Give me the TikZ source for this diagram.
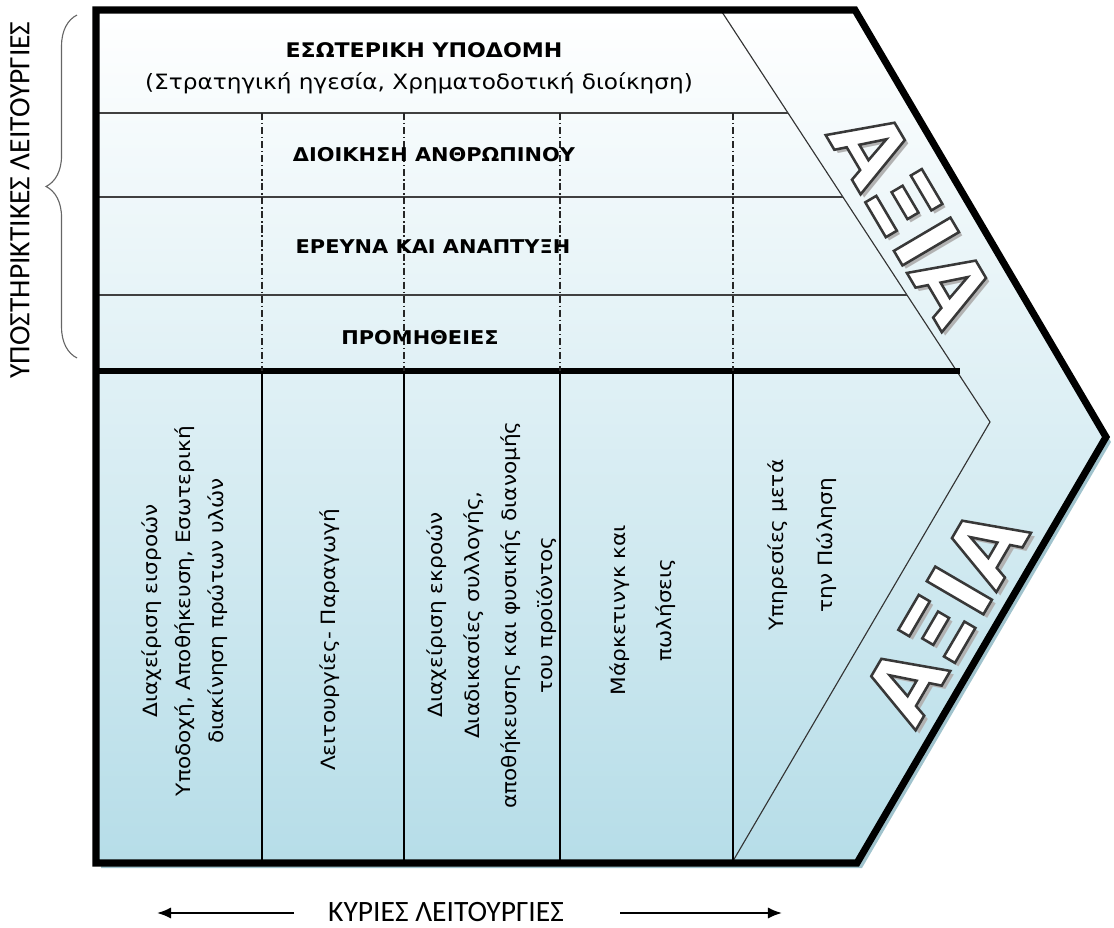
\documentclass[tikz,border=0pt]{standalone}
\usepackage{fontspec}
\setmainfont{DejaVu Sans}
\newfontfamily\bodyfont{DejaVu Sans}[FakeStretch=1.1]
\newfontfamily\sidefont{Carlito}
\newfontfamily\valuefont{DejaVu Sans}
\usetikzlibrary{arrows.meta,decorations.pathreplacing}
\definecolor{chainblue}{RGB}{182,221,232}
\definecolor{chainshadow}{RGB}{160,195,205}
\newcommand\colfont[1]{\bodyfont\fontsize{14}{#1}\selectfont}
% white letters with a thin grey stroke round them
\newcommand\outlined[1]{\special{pdf:code q 2 Tr 1.8 w 0.22 0.22 0.22 RG}#1\special{pdf:code Q}}

\begin{document}
\begin{tikzpicture}[x=0.025cm,y=-0.025cm,
  head/.style={font=\bodyfont\bfseries\fontsize{13.5}{16}\selectfont},
  col/.style={rotate=90,align=center,inner sep=0pt},
  side/.style={font=\sidefont\fontsize{21}{24}\selectfont},
  rowrule/.style={black!75,line width=1.3pt},
  dashrule/.style={black!85,line width=0.8pt,dash pattern=on 5pt off 2pt on 1pt off 2pt},
  colrule/.style={black,line width=1pt},
  arr/.style={-{Latex[length=10pt,width=8pt]},line width=1.4pt},
  value/.style={font=\valuefont\bfseries\fontsize{64}{64}\selectfont,inner sep=0pt}]
\useasboundingbox (0,0) rectangle (1114,928);

\coordinate (tl) at (96,10);
\coordinate (tr) at (855,10);
\coordinate (tip) at (1106,437);
\coordinate (br) at (857,863);
\coordinate (bl) at (96,863);
\coordinate (itop) at (722,12);
\coordinate (itip) at (990,422);
\coordinate (ibot) at (733,861);

\fill[chainshadow] (101,15) -- (860,15) -- (1111,442) -- (862,868) -- (101,868) -- cycle;
\shade[top color=white,bottom color=chainblue] (tl) -- (tr) -- (tip) -- (br) -- (bl) -- cycle;
\draw[black!80,line width=0.8pt] (itop) -- (itip) -- (ibot);

\foreach \y in {113,197,295}
  \draw[rowrule] (96,\y) -- ({722+(\y-12)/410*268},\y);
\draw[line width=4.2pt] (96,371) -- (960,371);
\foreach \x in {262,404,560,733} {
  \draw[dashrule] (\x,113) -- (\x,371);
  \draw[colrule] (\x,371) -- (\x,863);
}
\draw[line width=5pt,line join=miter] (tl) -- (tr) -- (tip) -- (br) -- (bl) -- cycle;

\node[head,font=\bodyfont\bfseries\fontsize{14.3}{16}\selectfont] (infra) at (424,50) {ΕΣΩΤΕΡΙΚΗ ΥΠΟΔΟΜΗ};
\node[font=\colfont{17}\fontsize{15}{17}\selectfont] (infrasub) at (419,83) {(Στρατηγική ηγεσία, Χρηματοδοτική διοίκηση)};
\node[head] (hrm) at (434,155) {ΔΙΟΙΚΗΣΗ ΑΝΘΡΩΠΙΝΟΥ};
\node[head] (rnd) at (433,247) {ΕΡΕΥΝΑ ΚΑΙ ΑΝΑΠΤΥΞΗ};
\node[head] (proc) at (420,338) {ΠΡΟΜΗΘΕΙΕΣ};

\node[col,font=\colfont{23.4}] (inbound) at (185,611) {Διαχείριση εισροών\\Υποδοχή, Αποθήκευση, Εσωτερική\\διακίνηση πρώτων υλών};
\node[col,font=\colfont{23.4}] (ops) at (330,640) {Λειτουργίες- Παραγωγή};
\node[col,font=\colfont{26}] (outbound) at (492,615) {Διαχείριση εκροών\\Διαδικασίες συλλογής,\\αποθήκευσης και φυσικής διανομής\\του προϊόντος};
\node[col,font=\colfont{32.6}] (sales) at (643,610) {Μάρκετινγκ και\\πωλήσεις};
\node[col,font=\colfont{34.7}] (service) at (802,545) {Υπηρεσίες μετά\\την Πώληση};

\foreach \ang/\cx/\cy [count=\n] in {-59.5/912/217,59.7/945/615} {
  \node[value,text=black!30,rotate=\ang] (axia\n-shadow) at (\cx+4,\cy+4) {ΑΞΙΑ};
  \node[value,text=white,rotate=\ang] (axia\n) at (\cx,\cy) {\outlined{ΑΞΙΑ}};
}

\node[side,rotate=90] (support) at (20,200) {ΥΠΟΣΤΗΡΙΚΤΙΚΕΣ ΛΕΙΤΟΥΡΓΙΕΣ};
\coordinate (bracelo) at (77,358);
\coordinate (bracehi) at (77,15);
\draw[black!60,line width=0.8pt,decorate,decoration={brace,amplitude=22pt}] (bracelo) -- (bracehi);

\node[side] (primary) at (446,912) {ΚΥΡΙΕΣ ΛΕΙΤΟΥΡΓΙΕΣ};
\coordinate (lefttail) at (294,913);
\coordinate (lefthead) at (157,913);
\coordinate (righttail) at (620,913);
\coordinate (righthead) at (782,913);
\draw[arr] (lefttail) -- (lefthead);
\draw[arr] (righttail) -- (righthead);
\end{tikzpicture}
\end{document}
